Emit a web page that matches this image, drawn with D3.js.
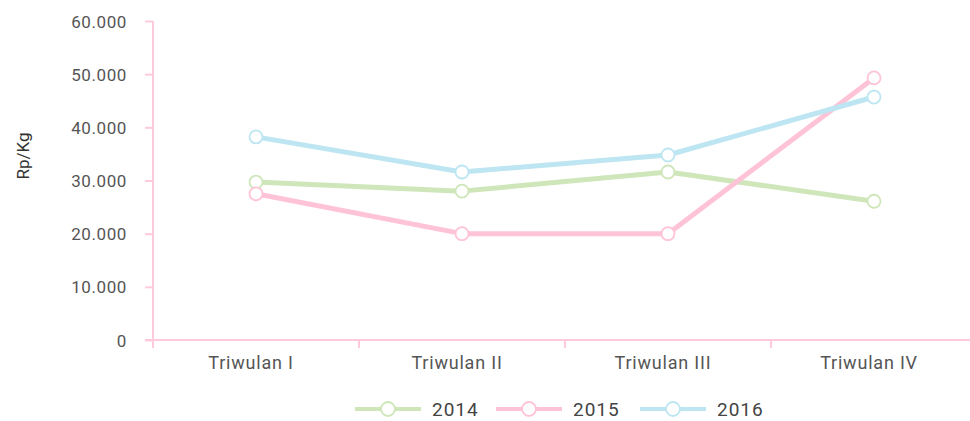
<!DOCTYPE html>
<html><head><meta charset="utf-8">
<script src="https://cdn.jsdelivr.net/npm/d3@7"></script>
<style>
body{margin:0;background:#fff;}
text{font-family:Roboto,"DejaVu Sans",sans-serif;}
</style></head>
<body><svg id="c" width="970" height="421"></svg>
<script>
const categories = ["Triwulan I","Triwulan II","Triwulan III","Triwulan IV"];
const years = ["2014","2015","2016"];
const v2014 = [29700, 28000, 31600, 26100];
const v2015 = [27500, 20000, 20000, 49300];
const v2016 = [38200, 31600, 34800, 45700];
const yTicks = [0,10000,20000,30000,40000,50000,60000];
const colors = ["#cfe6ba","#ffc3d7","#bde6f2"];
const seriesVals = [v2014, v2015, v2016];

const svg = d3.select("#c");
const x = d3.scaleBand().domain(categories).range([153, 977]);
const y = d3.scaleLinear().domain([0,60000]).range([340, 21]);
const axisColor = "#ffcadb";
const fmt = d => d===0 ? "0" : d3.format(",")(d).replace(/,/g,".");

// y axis
const ya = svg.append("g").attr("transform","translate(153,0)")
  .call(d3.axisLeft(y).tickValues(yTicks).tickFormat(fmt).tickSize(8).tickPadding(18));
ya.select(".domain").attr("stroke",axisColor).attr("stroke-width",2).attr("d","M0,21V340");
ya.selectAll(".tick line").attr("stroke",axisColor).attr("stroke-width",2);
ya.selectAll(".tick text").attr("fill","#555").style("font-size","17px").style("letter-spacing","0.6px").attr("dy","0.36em");

// x axis
const xa = svg.append("g").attr("transform","translate(0,340)")
  .call(d3.axisBottom(x).tickSize(0).tickPadding(16));
xa.select(".domain").attr("stroke",axisColor).attr("stroke-width",2).attr("d","M145,0H970");
xa.selectAll(".tick text").attr("fill","#555").style("font-size","18px").style("letter-spacing","0.8px").attr("dx","-5");
// boundary ticks
xa.selectAll(".btick").data(categories).enter().append("line")
  .attr("x1",d=>x(d)).attr("x2",d=>x(d)).attr("y1",0).attr("y2",8)
  .attr("stroke",axisColor).attr("stroke-width",2);

// y label
svg.append("text").attr("transform","translate(29,156) rotate(-90)")
  .attr("text-anchor","middle").attr("fill","#333").style("font-size","17px").text("Rp/Kg");

// lines
const line = d3.line().x((d,i)=>x(categories[i])+x.bandwidth()/2).y(d=>y(d));
seriesVals.forEach((vals,k)=>{
  svg.append("path").datum(vals).attr("d",line).attr("fill","none")
    .attr("stroke",colors[k]).attr("stroke-width",5).attr("stroke-linejoin","round");
});
seriesVals.forEach((vals,k)=>{
  svg.selectAll(".pt"+k).data(vals).enter().append("circle")
    .attr("cx",(d,i)=>x(categories[i])+x.bandwidth()/2).attr("cy",d=>y(d)).attr("r",6.5)
    .attr("fill","#fff").attr("stroke",colors[k]).attr("stroke-width",1.8);
});

// legend
const legX = [355, 496, 640];
years.forEach((yr,k)=>{
  const g = svg.append("g").attr("transform",`translate(${legX[k]},409)`);
  g.append("line").attr("x1",0).attr("x2",66).attr("y1",0).attr("y2",0)
    .attr("stroke",colors[k]).attr("stroke-width",4);
  g.append("circle").attr("cx",33).attr("cy",0).attr("r",7).attr("fill","#fff")
    .attr("stroke",colors[k]).attr("stroke-width",1.8);
  g.append("text").attr("x",77).attr("y",7).attr("fill","#444").style("font-size","19px").style("letter-spacing","1px").text(yr);
});
</script></body></html>
